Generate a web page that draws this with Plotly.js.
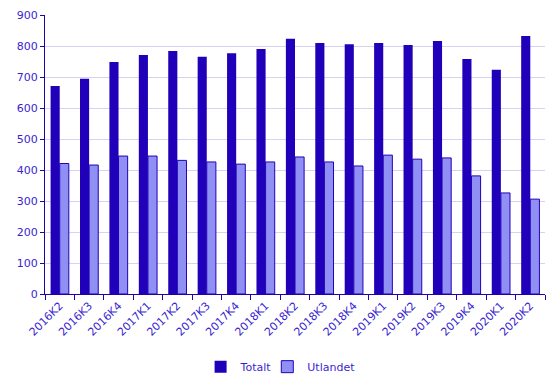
<!DOCTYPE html>
<html><head><meta charset="utf-8">
<script src="https://cdn.plot.ly/plotly-3.0.1.min.js"></script>
<style>html,body{margin:0;padding:0;background:#fff}#c{width:560px;height:387px}</style>
</head><body><div id="c"></div>
<script>
const categories = ["2016K2","2016K3","2016K4","2017K1","2017K2","2017K3","2017K4","2018K1","2018K2","2018K3","2018K4","2019K1","2019K2","2019K3","2019K4","2020K1","2020K2"];
const totalt = [671,694,748,771,784,765,777,790,823,810,806,810,803,816,758,723,832];
const utlandet = [421,416,445,445,431,426,419,426,442,426,413,448,435,439,381,326,306];
const yTicks = [0,100,200,300,400,500,600,700,800,900];

const axisColor = '#2200aa';
const textColor = '#3a1fd0';
const data = [
  {type:'bar', name:'Totalt', x:categories, y:totalt, marker:{color:'#2000b8', line:{width:0}}},
  {type:'bar', name:'Utlandet', x:categories, y:utlandet, marker:{color:'#9090f4', line:{color:'#2000b8', width:1}}}
];
const layout = {
  width:560, height:387,
  margin:{l:45, r:15, t:15, b:93},
  paper_bgcolor:'#fff', plot_bgcolor:'#fff',
  font:{family:'"DejaVu Sans", Verdana, sans-serif', size:11, color:textColor},
  barmode:'group', bargap:0.38, bargroupgap:0,
  showlegend:true,
  legend:{orientation:'h', x:0.51, xref:'container', xanchor:'center', yref:'container', y:0.09, yanchor:'top',
          font:{size:11, color:textColor}, itemwidth:30, indentation:-10, tracegroupgap:0},
  xaxis:{type:'category', tickangle:-45, showline:true, linecolor:axisColor, linewidth:1, automargin:false,
         ticks:'outside', tickson:'boundaries', ticklen:5, tickcolor:axisColor,
         showgrid:false, tickfont:{size:11, color:textColor}},
  yaxis:{range:[0,900], tickvals:yTicks, showline:true, linecolor:axisColor, linewidth:1, automargin:false,
         ticks:'outside', ticklen:4, tickcolor:axisColor, gridcolor:'#d6d2ef', gridwidth:1,
         zeroline:false, tickfont:{size:11, color:textColor}}
};
Plotly.newPlot('c', data, layout, {displayModeBar:false, staticPlot:true});
</script></body></html>
